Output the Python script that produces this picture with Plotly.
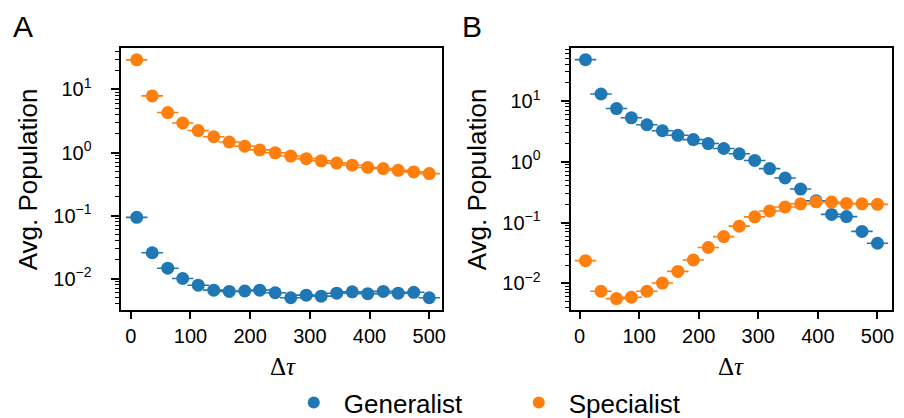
import plotly.graph_objects as go

# Δτ values (same for all series)
dtau = [10, 36, 62, 87, 113, 139, 165, 191, 216, 242, 268, 294, 319, 345, 371, 397, 423, 448, 474, 500]
dtau_err = [18] * 20

# Panel A
A_generalist = [0.094, 0.0258, 0.0147, 0.0101, 0.0079, 0.0066, 0.0063, 0.0064, 0.0066, 0.0060,
                0.0050, 0.0055, 0.0053, 0.0059, 0.0062, 0.0058, 0.0063, 0.0059, 0.0061, 0.0050]
A_specialist = [29.4, 7.9, 4.3, 2.94, 2.23, 1.78, 1.47, 1.26, 1.10, 0.99,
                0.88, 0.80, 0.74, 0.68, 0.63, 0.58, 0.556, 0.523, 0.493, 0.464]

# Panel B
B_generalist = [47.8, 13.0, 7.5, 5.28, 4.06, 3.24, 2.72, 2.31, 1.99, 1.65,
                1.35, 1.05, 0.77, 0.54, 0.355, 0.227, 0.136, 0.125, 0.0714, 0.0456]
B_specialist = [0.0236, 0.0074, 0.0056, 0.0059, 0.0074, 0.0101, 0.0157, 0.0242, 0.0388, 0.0586,
                0.0872, 0.124, 0.155, 0.180, 0.203, 0.219, 0.217, 0.206, 0.203, 0.199]

series_names = ["Generalist", "Specialist"]
colors = ["#1f77b4", "#ff7f0e"]

ytickvals = [0.01, 0.1, 1, 10]
yticktext = ["10<sup>−2</sup>", "10<sup>−1</sup>", "10<sup>0</sup>", "10<sup>1</sup>"]
xtickvals = [0, 100, 200, 300, 400, 500]

FONT = "Liberation Sans, Arial, sans-serif"

fig = go.Figure()

panels = [("x", "y", [A_generalist, A_specialist]), ("x2", "y2", [B_generalist, B_specialist])]
for pi, (xa, ya, data) in enumerate(panels):
    for si, vals in enumerate(data):
        fig.add_trace(go.Scatter(
            x=dtau, y=vals, xaxis=xa, yaxis=ya, mode="markers",
            name=series_names[si], showlegend=(pi == 0), legendgroup=series_names[si],
            marker=dict(color=colors[si], size=13, line=dict(width=0)),
            error_x=dict(type="data", array=dtau_err, visible=True, color=colors[si],
                         thickness=1.6, width=0),
        ))

axis_common = dict(showline=True, linecolor="black", linewidth=2, mirror=True,
                   ticks="outside", tickwidth=1.8, tickcolor="black",
                   showgrid=False, zeroline=False,
                   tickfont=dict(family=FONT, size=20, color="black"))

xd_A = [114 / 904, 436 / 904]
xd_B = [565 / 904, 888 / 904]
yd = [1 - 306.7 / 418, 1 - 41 / 418]

minor = dict(ticks="outside", ticklen=4, tickwidth=1.2, tickcolor="black", dtick="D1")

fig.update_layout(
    width=904, height=418,
    margin=dict(l=0, r=0, t=0, b=0),
    paper_bgcolor="white", plot_bgcolor="white",
    font=dict(family=FONT, color="black"),
    xaxis=dict(domain=xd_A, range=[-15.5, 521.5], tickvals=xtickvals, anchor="y", ticklen=7, **axis_common),
    xaxis2=dict(domain=xd_B, range=[-15.2, 524.5], tickvals=xtickvals, anchor="y2", ticklen=7, **axis_common),
    yaxis=dict(domain=yd, type="log", range=[-2.5, 1.65], tickvals=ytickvals, ticktext=yticktext,
               anchor="x", minor=minor, ticklen=8, ticklabelstandoff=16, **axis_common),
    yaxis2=dict(domain=yd, type="log", range=[-2.444, 1.864], tickvals=ytickvals, ticktext=yticktext,
                anchor="x2", minor=minor, ticklen=8, ticklabelstandoff=16, **axis_common),
    legend=dict(orientation="h", x=0.5 + 51 / 904, xanchor="center", y=400 / 418 - 0.915, yanchor="middle",
                font=dict(family=FONT, size=26, color="black"), itemsizing="constant",
                itemwidth=50, entrywidth=160, entrywidthmode="pixels",
                bgcolor="rgba(0,0,0,0)"),
)

annotations = []
for xc, letter, lx in [(276 / 904, "A", 3 / 904), (726 / 904, "B", 454 / 904)]:
    annotations.append(dict(text="Δ<i>τ</i>", x=xc, y=1 - 364 / 418, xref="paper", yref="paper",
                            showarrow=False, xanchor="center", yanchor="middle",
                            font=dict(family="Liberation Serif, DejaVu Serif, serif", size=25, color="black")))
    annotations.append(dict(text=letter, x=lx, y=1, xref="paper", yref="paper",
                            showarrow=False, xanchor="left", yanchor="top",
                            font=dict(family=FONT, size=30, color="black")))
for xpix in [20, 471]:
    annotations.append(dict(text="Avg. Population", x=xpix / 904, y=(yd[0] + yd[1]) / 2,
                            xref="paper", yref="paper", showarrow=False, textangle=-90,
                            xanchor="center", yanchor="middle",
                            font=dict(family=FONT, size=26, color="black")))
fig.update_layout(annotations=annotations)

fig.write_html("out.html")
